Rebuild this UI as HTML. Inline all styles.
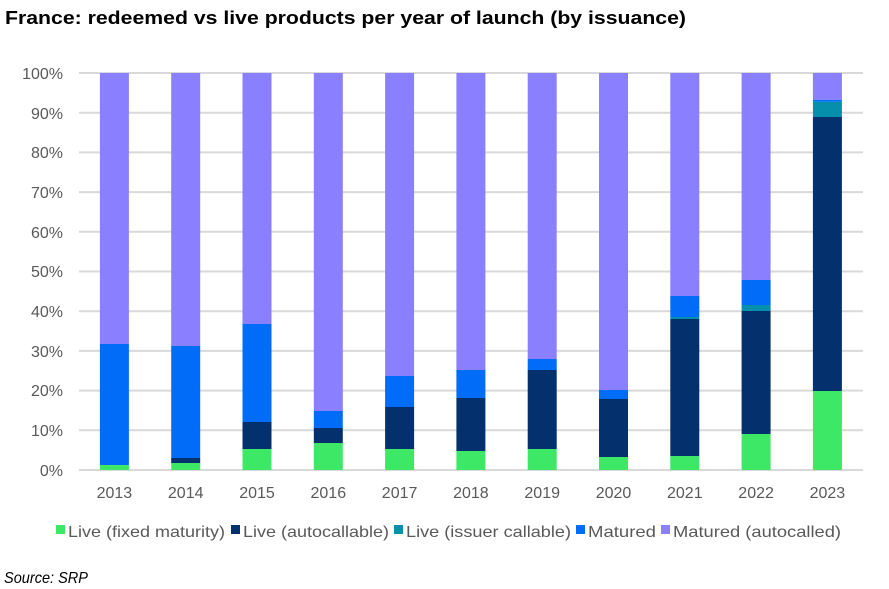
<!DOCTYPE html>
<html><head><meta charset="utf-8"><style>
html,body{margin:0;padding:0;background:#fff;width:889px;height:589px;overflow:hidden}
svg{display:block;font-family:"Liberation Sans",Arial,sans-serif}
</style></head><body>
<svg width="889" height="589" xmlns="http://www.w3.org/2000/svg">
<text x="5" y="24" font-size="18" font-weight="bold" fill="#000" textLength="681" lengthAdjust="spacingAndGlyphs">France: redeemed vs live products per year of launch (by issuance)</text>
<g stroke="#d9d9d9" stroke-width="2">
<line x1="79" x2="863" y1="73" y2="73"/><line x1="79" x2="863" y1="112.7" y2="112.7"/><line x1="79" x2="863" y1="152.4" y2="152.4"/><line x1="79" x2="863" y1="192.1" y2="192.1"/><line x1="79" x2="863" y1="231.8" y2="231.8"/><line x1="79" x2="863" y1="271.5" y2="271.5"/><line x1="79" x2="863" y1="311.2" y2="311.2"/><line x1="79" x2="863" y1="350.9" y2="350.9"/><line x1="79" x2="863" y1="390.6" y2="390.6"/><line x1="79" x2="863" y1="430.3" y2="430.3"/><line x1="79" x2="863" y1="470" y2="470"/>
</g>
<g font-size="16" fill="#595959" text-anchor="end">
<text x="63" y="79">100%</text><text x="63" y="119">90%</text><text x="63" y="158">80%</text><text x="63" y="198">70%</text><text x="63" y="238">60%</text><text x="63" y="277">50%</text><text x="63" y="317">40%</text><text x="63" y="357">30%</text><text x="63" y="396">20%</text><text x="63" y="436">10%</text><text x="63" y="476">0%</text>
</g>
<g id="bars"></g>
<g font-size="16" fill="#595959" text-anchor="middle" id="xl"></g>
<g font-size="16" fill="#595959">
<rect x="56" y="525" width="9" height="9" fill="#3ce866"/>
<text x="68" y="537" textLength="157" lengthAdjust="spacingAndGlyphs">Live (fixed maturity)</text>
<rect x="231" y="525" width="9" height="9" fill="#05306e"/>
<text x="243" y="537" textLength="146" lengthAdjust="spacingAndGlyphs">Live (autocallable)</text>
<rect x="394" y="525" width="9" height="9" fill="#058fac"/>
<text x="406" y="537" textLength="165" lengthAdjust="spacingAndGlyphs">Live (issuer callable)</text>
<rect x="576" y="525" width="9" height="9" fill="#006cf7"/>
<text x="588" y="537" textLength="68" lengthAdjust="spacingAndGlyphs">Matured</text>
<rect x="661" y="525" width="9" height="9" fill="#897fff"/>
<text x="673" y="537" textLength="168" lengthAdjust="spacingAndGlyphs">Matured (autocalled)</text>
</g>
<text x="4" y="583" font-size="16" font-style="italic" fill="#000" textLength="84" lengthAdjust="spacingAndGlyphs">Source: SRP</text>
</svg>
<script>
var data=[
[2013,[465,465,465,344]],
[2014,[463,458,458,346]],
[2015,[449,422,422,324]],
[2016,[443,428,428,411]],
[2017,[449,407,407,376]],
[2018,[451,398,398,370]],
[2019,[449,370,370,359]],
[2020,[457,399,399,390]],
[2021,[456,319,317,296]],
[2022,[434,311,305,280]],
[2023,[391,117,101.7,99.7]]];
var cols=["#3ce866","#05306e","#058fac","#006cf7","#897fff"];
var ns="http://www.w3.org/2000/svg",g=document.getElementById("bars"),xl=document.getElementById("xl");
data.forEach(function(d,i){
 var cx=114.4+i*71.3,x=cx-14.5,prev=470,tops=d[1].concat([73]);
 tops.forEach(function(t,k){
  if(prev-t>0){var r=document.createElementNS(ns,"rect");r.setAttribute("x",x);r.setAttribute("width",29);r.setAttribute("y",t);r.setAttribute("height",prev-t);r.setAttribute("fill",cols[k]);g.appendChild(r);}
  prev=t;});
 var tx=document.createElementNS(ns,"text");tx.setAttribute("x",cx);tx.setAttribute("y",498);tx.textContent=d[0];xl.appendChild(tx);
});
</script>
</body></html>
